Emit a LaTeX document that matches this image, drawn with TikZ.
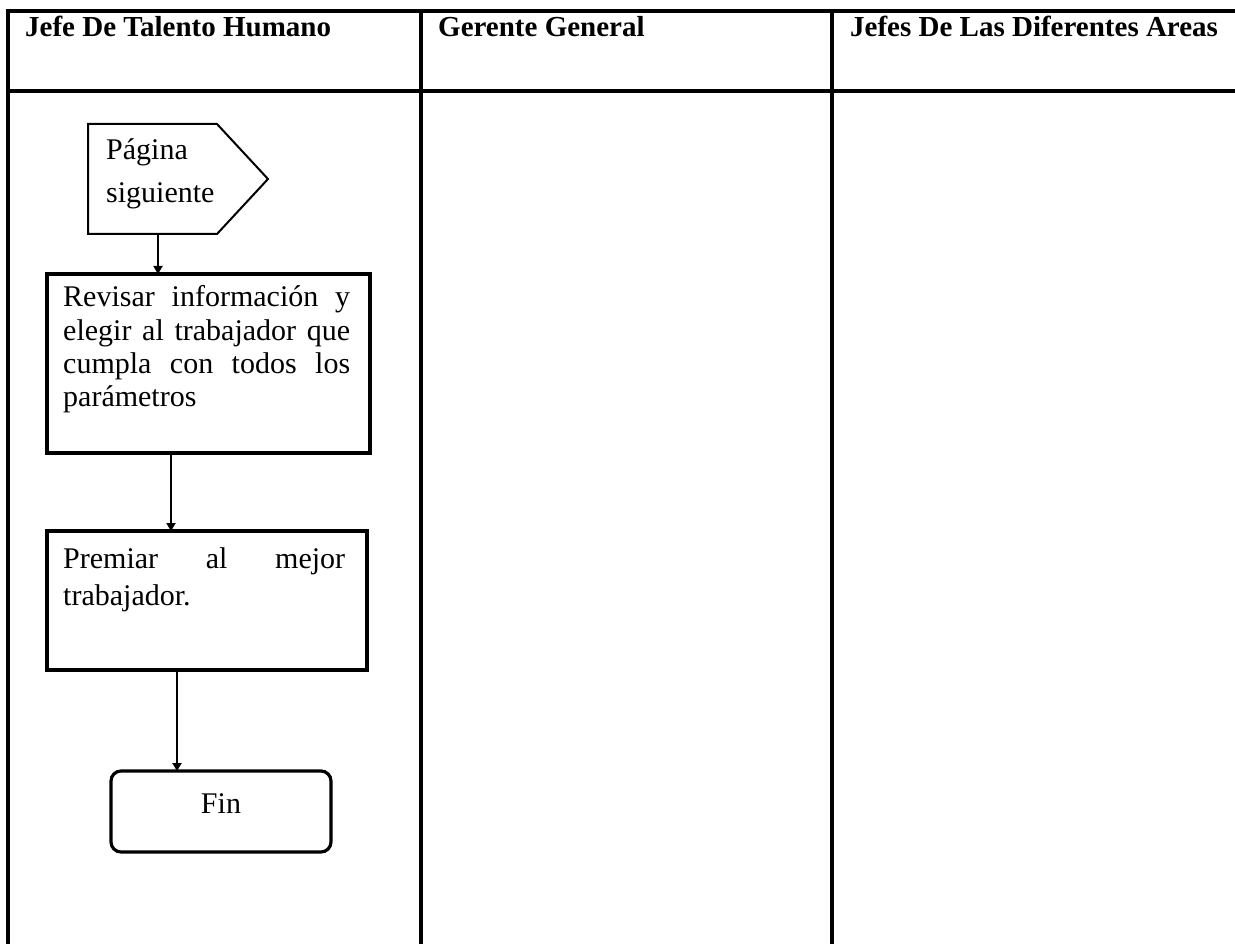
\documentclass[tikz,border=0pt]{standalone}
\usepackage{fontspec}
\setmainfont{Liberation Serif}
\usetikzlibrary{arrows.meta}
\begin{document}
\begin{tikzpicture}[x=1pt,y=-1pt,
  grid/.style={line width=3.2pt},
  box/.style={draw,line width=3.2pt,inner sep=0pt,outer sep=0pt,anchor=north west},
  link/.style={line width=2.6pt,-{Triangle[width=9pt,length=8pt]}},
  body/.style={inner sep=0pt,anchor=base west,font=\fontsize{30}{33.3}\selectfont},
  head/.style={inner sep=0pt,anchor=base west,font=\fontsize{29}{32}\selectfont\bfseries}]
\useasboundingbox (0,0) rectangle (1235,944);
\clip (0,0) rectangle (1235,944);

% swimlane grid
\draw[grid] (8,960) -- (8,11) -- (1250,11);
\draw[grid] (8,91) -- (1250,91);
\draw[grid] (421,11) -- (421,960);
\draw[grid] (832,11) -- (832,960);

% lane titles
\node[head] (laneA) at (25,37) {Jefe De Talento Humano};
\node[head] (laneB) at (438,37) {Gerente General};
\node[head] (laneC) at (850,37) {Jefes De Las Diferentes Areas};

% off-page connector
\draw[line width=2pt] (88,124) -- (217,124) -- (268,179) -- (217,234) -- (88,234) -- cycle;
\node[body] (pagtxt) at (106,160) {\parbox[t]{110pt}{\fontsize{30}{43}\selectfont Página\\siguiente}};
\coordinate (pagout) at (158,234);

% process steps
\node[box,minimum width=323,minimum height=179] (rev) at (47,274) {};
\node[body] (revtxt) at (63,307) {\parbox[t]{290pt}{%
  \makebox[287pt][s]{Revisar información y}\\
  \makebox[287pt][s]{elegir al trabajador que}\\
  \makebox[287pt][s]{cumpla con todos los}\\
  parámetros}};

\node[box,minimum width=320,minimum height=139] (prem) at (47,531) {};
\node[body] (premtxt) at (63,568) {\parbox[t]{290pt}{\fontsize{30}{37}\selectfont
  \makebox[282pt][s]{Premiar al mejor}\\
  trabajador.}};

\node[box,rounded corners=10pt,minimum width=220,minimum height=81] (fin) at (111,771) {};
\node[body,anchor=base] (fintxt) at (221,813) {Fin};

% connectors
\draw[link] (pagout) -- (pagout |- rev.north);
\draw[link] ([xshift=-37.5pt]rev.south) -- ([xshift=-37.5pt]rev.south |- prem.north);
\draw[link] ([xshift=-30pt]prem.south) -- ([xshift=-30pt]prem.south |- fin.north);
\end{tikzpicture}
\end{document}
